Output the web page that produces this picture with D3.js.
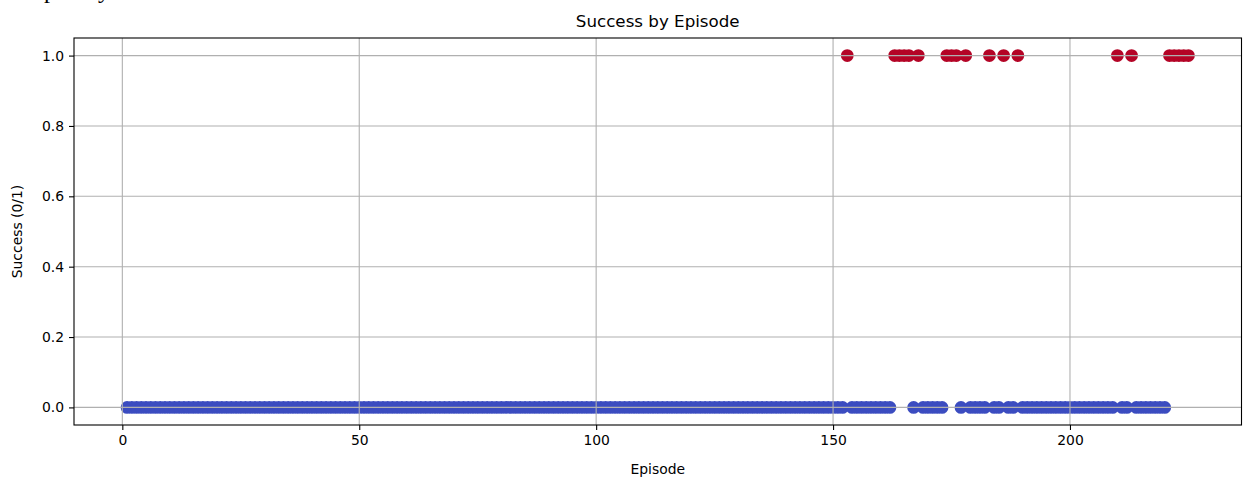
<!DOCTYPE html>
<html>
<head>
<meta charset="utf-8">
<script src="https://cdn.jsdelivr.net/npm/d3@7"></script>
<style>
  body { margin: 0; background: #fff; }
  text { font-family: "DejaVu Sans", sans-serif; fill: #000; }
</style>
</head>
<body>
<div id="scatter"></div>
<script>
////////////////////////////////////////////////////////////////
// Data

// episodes run from 1 to 225, these ones were successes
var episodeCount = 225;
var successEpisodes = [153, 163, 164, 165, 166, 168, 174, 175, 176, 178,
    183, 186, 189, 210, 213, 221, 222, 223, 224, 225];
var xTicks = [0, 50, 100, 150, 200];
var yTicks = [0.0, 0.2, 0.4, 0.6, 0.8, 1.0];

var episodes = d3.range(1, episodeCount + 1);
var data = episodes.map(function (ep) {
    return { episode: ep, success: successEpisodes.indexOf(ep) >= 0 ? 1 : 0 };
});

////////////////////////////////////////////////////////////////
// Basic parameters

var svgWidth = 1246;
var svgHeight = 481;
var margin = { top: 38, right: 4.5, bottom: 56, left: 74 };
var width = svgWidth - margin.left - margin.right;
var height = svgHeight - margin.top - margin.bottom;

var svg = d3.select("#scatter")
    .append("svg")
    .attr("width", svgWidth)
    .attr("height", svgHeight);

// clipped text left over at the top of the page
svg.append("text")
    .attr("x", 44)
    .attr("y", -2)
    .style("font-family", "Liberation Serif, serif")
    .style("font-size", "24px")
    .text("p");
svg.append("text")
    .attr("x", 98)
    .attr("y", -2)
    .style("font-family", "Liberation Serif, serif")
    .style("font-size", "24px")
    .text("y");

var chart = svg.append("g")
    .attr("transform", `translate(${margin.left}, ${margin.top})`);

////////////////////////////////////////////////////////////////
// Scales & axes

// matplotlib style 5% padding
var xPad = (episodeCount - 1) * 0.05;
var xScale = d3.scaleLinear()
    .domain([1 - xPad, episodeCount + xPad])
    .range([0, width]);

var yScale = d3.scaleLinear()
    .domain([-0.05, 1.05])
    .range([height, 0]);

var color = d3.scaleOrdinal()
    .domain([0, 1])
    .range(["#3b4cc0", "#b40426"]);

var bottomAxis = d3.axisBottom(xScale)
    .tickValues(xTicks)
    .tickSize(5)
    .tickPadding(5)
    .tickFormat(d3.format("d"));
var leftAxis = d3.axisLeft(yScale)
    .tickValues(yTicks)
    .tickSize(5)
    .tickPadding(5)
    .tickFormat(d3.format(".1f"));

//points
chart.append("g")
    .selectAll("circle")
    .data(data)
    .enter()
    .append("circle")
    .attr("cx", d => xScale(d.episode))
    .attr("cy", d => yScale(d.success))
    .attr("r", 6.4)
    .attr("fill", d => color(d.success));

// grid lines sit on top of the points
chart.append("g")
    .selectAll("line")
    .data(xTicks)
    .enter()
    .append("line")
    .attr("x1", d => xScale(d))
    .attr("x2", d => xScale(d))
    .attr("y1", 0)
    .attr("y2", height)
    .attr("stroke", "#b0b0b0")
    .attr("stroke-width", 1.1);

chart.append("g")
    .selectAll("line")
    .data(yTicks)
    .enter()
    .append("line")
    .attr("x1", 0)
    .attr("x2", width)
    .attr("y1", d => yScale(d))
    .attr("y2", d => yScale(d))
    .attr("stroke", "#b0b0b0")
    .attr("stroke-width", 1.1);

var xAxis = chart.append("g")
    .attr("transform", `translate(0, ${height})`)
    .call(bottomAxis);
var yAxis = chart.append("g").call(leftAxis);

[xAxis, yAxis].forEach(function (ax) {
    ax.select(".domain").remove();
    ax.selectAll(".tick line").attr("stroke", "#000").attr("stroke-width", 1.1);
    ax.selectAll(".tick text")
        .style("font-family", "DejaVu Sans, sans-serif")
        .style("font-size", "13.9px")
        .attr("fill", "#000");
});

// frame
chart.append("rect")
    .attr("x", 0)
    .attr("y", 0)
    .attr("width", width)
    .attr("height", height)
    .attr("fill", "none")
    .attr("stroke", "#000")
    .attr("stroke-width", 1.1);

////////////////////////////////////////////////////////////////
// Labels

chart.append("text")
    .attr("x", width / 2)
    .attr("y", -11)
    .attr("text-anchor", "middle")
    .style("font-size", "16.7px")
    .text("Success by Episode");

chart.append("text")
    .attr("x", width / 2)
    .attr("y", height + 49)
    .attr("text-anchor", "middle")
    .style("font-size", "13.9px")
    .text("Episode");

chart.append("text")
    .attr("transform", "rotate(-90)")
    .attr("x", -height / 2)
    .attr("y", -52)
    .attr("text-anchor", "middle")
    .style("font-size", "13.9px")
    .text("Success (0/1)");
</script>
</body>
</html>
